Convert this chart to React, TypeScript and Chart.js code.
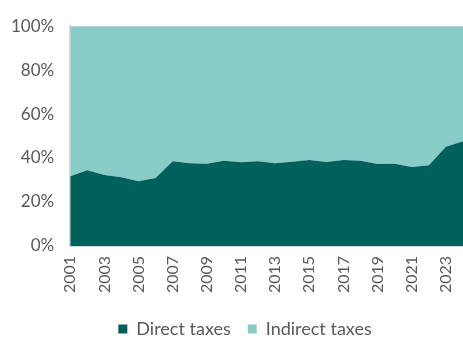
import React, { useEffect, useRef } from "react";
import { Chart, registerables } from "chart.js";

Chart.register(...registerables);

const years: string[] = [
  "2001", "2002", "2003", "2004", "2005", "2006", "2007", "2008", "2009", "2010",
  "2011", "2012", "2013", "2014", "2015", "2016", "2017", "2018", "2019", "2020",
  "2021", "2022", "2023", "2024",
];

const directTaxes: number[] = [
  31.7, 34.4, 32.3, 31.2, 29.4, 30.9, 38.5, 37.6, 37.4, 38.8,
  38.1, 38.5, 37.6, 38.3, 39.1, 38.2, 39.1, 38.8, 37.3, 37.4,
  35.9, 36.7, 45.1, 47.6,
];

const indirectTaxes: number[] = [
  68.3, 65.6, 67.7, 68.8, 70.6, 69.1, 61.5, 62.4, 62.6, 61.2,
  61.9, 61.5, 62.4, 61.7, 60.9, 61.8, 60.9, 61.2, 62.7, 62.6,
  64.1, 63.3, 54.9, 52.4,
];

const yTicks: number[] = [0, 20, 40, 60, 80, 100];

const DARK = "rgb(0,96,92)";
const LIGHT = "rgb(136,203,199)";
const TEXT = "#595959";
const FONT = "Lato, 'Open Sans', sans-serif";

const shiftLegend = {
  id: "shiftLegend",
  afterLayout(chart: any) {
    const lg = chart.legend;
    if (lg) {
      lg.left += 16;
      lg.right += 16;
    }
  },
};

export default function App() {
  const ref = useRef<HTMLCanvasElement | null>(null);

  useEffect(() => {
    document.body.style.margin = "0";
    if (!ref.current) return;
    const chart = new Chart(ref.current, {
      type: "line",
      data: {
        labels: years,
        datasets: [
          {
            label: "Direct taxes",
            data: directTaxes,
            backgroundColor: DARK,
            borderColor: DARK,
            borderWidth: 0,
            pointRadius: 0,
            fill: "origin",
            tension: 0,
          },
          {
            label: "Indirect taxes",
            data: indirectTaxes,
            backgroundColor: LIGHT,
            borderColor: LIGHT,
            borderWidth: 0,
            pointRadius: 0,
            fill: "-1",
            tension: 0,
          },
        ],
      },
      plugins: [shiftLegend],
      options: {
        animation: false,
        responsive: false,
        maintainAspectRatio: false,
        layout: { padding: { top: 11, right: 0, left: -5, bottom: -10 } },
        plugins: {
          legend: {
            position: "bottom",
            labels: {
              boxWidth: 9,
              boxHeight: 9,
              padding: 17,
              color: TEXT,
              font: { family: FONT, size: 18 },
            },
          },
          tooltip: { enabled: false },
        },
        scales: {
          x: {
            offset: false,
            grid: { display: false, drawTicks: false },
            border: { display: true, color: "#d9d9d9", width: 2 },
            afterFit: (s: any) => {
              s.paddingRight = 0;
            },
            ticks: {
              autoSkip: false,
              maxRotation: 90,
              minRotation: 90,
              padding: 10,
              color: TEXT,
              font: { family: FONT, size: 16 },
              callback: (_v: any, i: number) => (i % 2 === 0 ? years[i] : ""),
            },
          },
          y: {
            stacked: true,
            min: 0,
            max: 100,
            afterBuildTicks: (axis: any) => {
              axis.ticks = yTicks.map((v) => ({ value: v }));
            },
            grid: {
              drawTicks: false,
              color: (c: any) => (c.tick && c.tick.value === 100 ? "#d9d9d9" : "rgba(0,0,0,0)"),
            },
            border: { display: true, color: "#d9d9d9", width: 2 },
            ticks: {
              padding: 16,
              color: TEXT,
              font: { family: FONT, size: 17 },
              callback: (v: any) => v + "%",
            },
          },
        },
      },
    });
    return () => chart.destroy();
  }, []);

  return (
    <div style={{ position: "absolute", left: 0, top: 0, width: 463, height: 338 }}>
      <canvas ref={ref} width={463} height={338} style={{ width: 463, height: 338 }} />
    </div>
  );
}
